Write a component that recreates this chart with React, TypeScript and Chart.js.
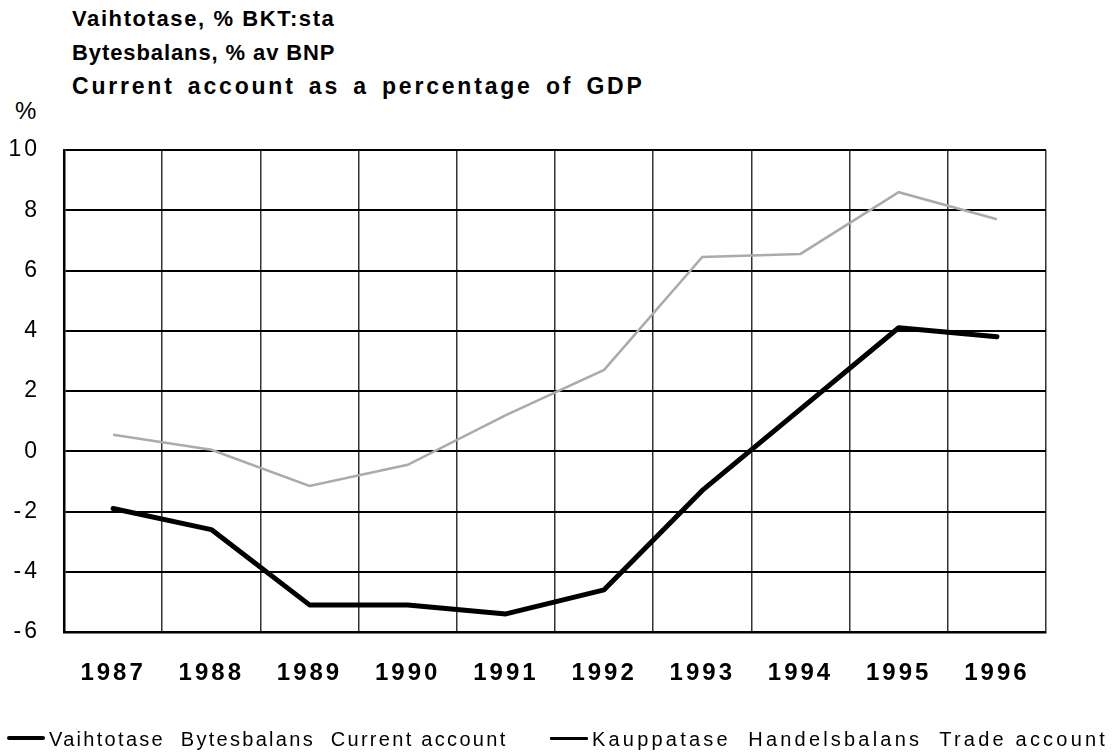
import React, { useEffect, useRef } from "react";
import { Chart, registerables } from "chart.js";

Chart.register(...registerables);

const years = ["1987", "1988", "1989", "1990", "1991", "1992", "1993", "1994", "1995", "1996"];
const currentAccount = [-1.9, -2.6, -5.1, -5.1, -5.4, -4.6, -1.3, 1.4, 4.1, 3.8];
const tradeAccount = [0.55, 0.05, -1.15, -0.45, 1.2, 2.7, 6.45, 6.55, 8.6, 7.7];
const yMin = -6;
const yMax = 10;
const yStep = 2;

const titleLines = [
  "Vaihtotase, % BKT:sta",
  "Bytesbalans, % av BNP",
  "Current account as a percentage of GDP",
];
const titleSizes = [22, 22, 23];
const titleSpacing = ["1.6px", "0.9px", "2.8px"];
const titleWordSpacing = ["0px", "0px", "4px"];
const legendCurrent = "Vaihtotase  Bytesbalans  Current account";
const legendTrade = "Kauppatase  Handelsbalans  Trade account";

const FONT = '"Liberation Sans", Arial, Helvetica, sans-serif';

const spacingPlugin = {
  id: "letterSpacingPlugin",
  beforeDraw(chart: any) {
    chart.ctx.letterSpacing = "3px";
  },
  afterDraw(chart: any) {
    chart.ctx.letterSpacing = "0px";
  },
};

export default function App() {
  const canvasRef = useRef<HTMLCanvasElement | null>(null);

  useEffect(() => {
    if (!canvasRef.current) return;
    const chart = new Chart(canvasRef.current, {
      type: "line",
      data: {
        labels: years,
        datasets: [
          {
            label: "Kauppatase Handelsbalans Trade account",
            data: tradeAccount,
            borderColor: "#ababab",
            borderWidth: 2.5,
            pointRadius: 0,
            tension: 0,
            fill: false,
          },
          {
            label: "Vaihtotase Bytesbalans Current account",
            data: currentAccount,
            borderColor: "#000000",
            borderWidth: 5,
            pointRadius: 0,
            tension: 0,
            fill: false,
            borderCapStyle: "round",
            borderJoinStyle: "round",
          },
        ],
      },
      options: {
        responsive: false,
        animation: false,
        devicePixelRatio: 1,
        layout: { padding: { top: 150, right: 66, left: 0, bottom: 0 } },
        plugins: {
          legend: { display: false },
          title: { display: false },
          tooltip: { enabled: false },
        },
        scales: {
          x: {
            type: "category",
            offset: true,
            grid: {
              offset: true,
              color: "#333333",
              lineWidth: 1.5,
              drawTicks: false,
            },
            border: { color: "#000", width: 2.5 },
            ticks: {
              color: "#000",
              font: { family: FONT, size: 24, weight: "bold" },
              padding: 27,
              maxRotation: 0,
              autoSkip: false,
            },
            afterFit: (scale: any) => {
              scale.height = 122;
            },
          },
          y: {
            min: yMin,
            max: yMax,
            grid: {
              color: "#000",
              lineWidth: 2,
              drawTicks: false,
            },
            border: { color: "#000", width: 2.5 },
            ticks: {
              stepSize: yStep,
              color: "#000",
              font: { family: FONT, size: 23 },
              padding: 24,
            },
            afterFit: (scale: any) => {
              scale.width = 64;
            },
          },
        },
      },
      plugins: [spacingPlugin],
    });
    return () => chart.destroy();
  }, []);

  return (
    <div
      style={{
        position: "fixed",
        left: 0,
        top: 0,
        width: 1112,
        height: 754,
        background: "#fff",
        fontFamily: FONT,
        color: "#000",
        overflow: "hidden",
      }}
    >
      {titleLines.map((t, i) => (
        <div
          key={i}
          style={{
            position: "absolute",
            left: 72,
            top: 1 + i * 34,
            fontSize: titleSizes[i],
            lineHeight: "35px",
            fontWeight: "bold",
            letterSpacing: titleSpacing[i],
            wordSpacing: titleWordSpacing[i],
            whiteSpace: "pre",
          }}
        >
          {t}
        </div>
      ))}
      <div
        style={{
          position: "absolute",
          left: 15,
          top: 99,
          fontSize: 24,
          lineHeight: "24px",
          whiteSpace: "pre",
        }}
      >
        %
      </div>
      <canvas
        ref={canvasRef}
        width={1112}
        height={754}
        style={{ position: "absolute", left: 0, top: 0, width: 1112, height: 754 }}
      />
      <div
        style={{
          position: "absolute",
          left: 7,
          top: 736,
          width: 38,
          height: 4,
          background: "#000",
          borderRadius: 2,
        }}
      />
      <div
        style={{
          position: "absolute",
          left: 49,
          top: 729,
          fontSize: 20,
          lineHeight: "20px",
          letterSpacing: "2.3px",
          whiteSpace: "pre",
        }}
      >
        {legendCurrent}
      </div>
      <div
        style={{
          position: "absolute",
          left: 550,
          top: 737,
          width: 38,
          height: 2.5,
          background: "#000",
          borderRadius: 1,
        }}
      />
      <div
        style={{
          position: "absolute",
          left: 592,
          top: 729,
          fontSize: 20,
          lineHeight: "20px",
          letterSpacing: "3.2px",
          whiteSpace: "pre",
        }}
      >
        {legendTrade}
      </div>
    </div>
  );
}
